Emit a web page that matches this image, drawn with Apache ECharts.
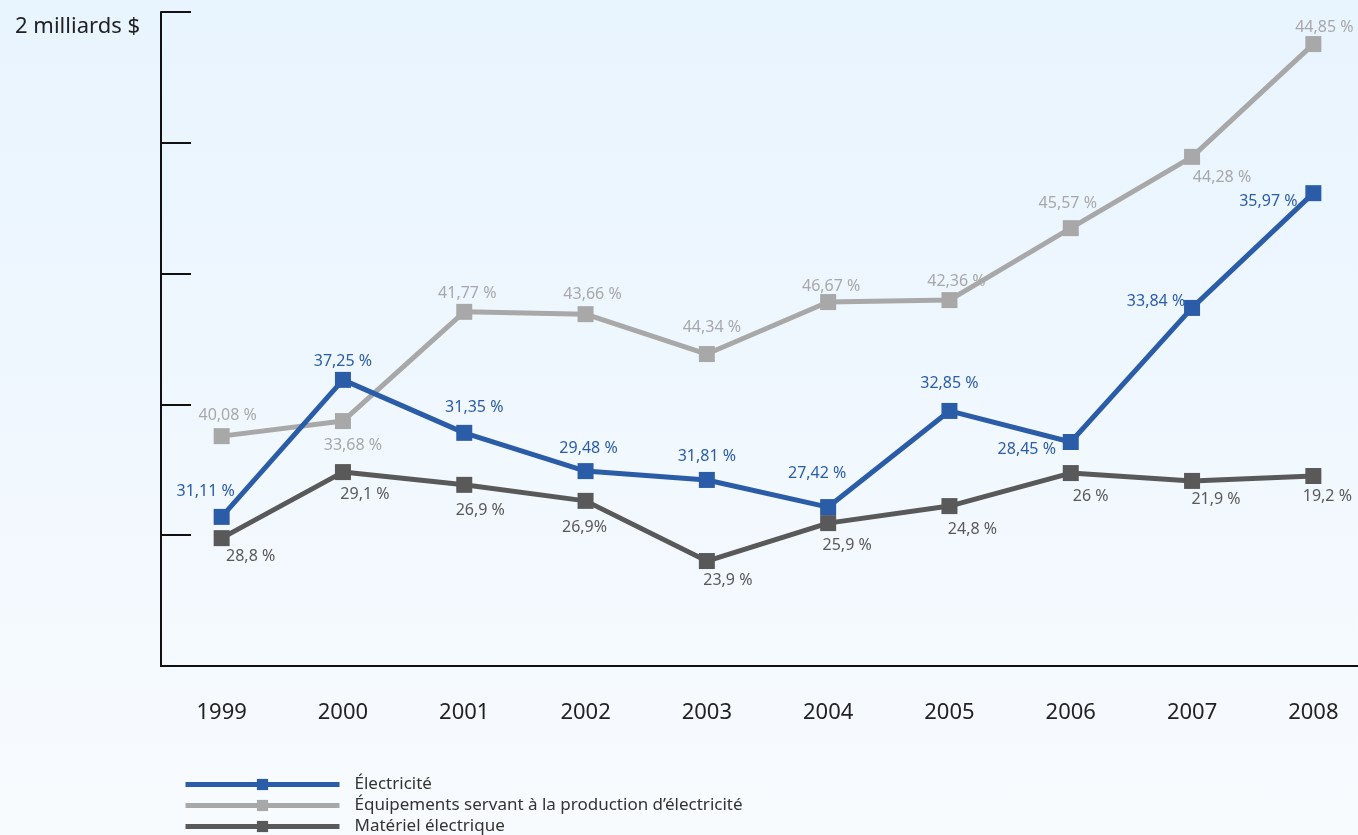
<!DOCTYPE html>
<html>
<head>
<meta charset="utf-8">
<script src="https://cdn.jsdelivr.net/npm/echarts@6/dist/echarts.min.js"></script>
<style>
html,body{margin:0;padding:0;overflow:hidden;width:1358px;height:835px;background:#f4f9fe;}
#c{width:1390px;height:835px;background:linear-gradient(to bottom,#e8f4fe 0%,#f8fbfe 100%);}
</style>
</head>
<body>
<div id="c"></div>
<script>
const years = ['1999','2000','2001','2002','2003','2004','2005','2006','2007','2008'];
// values in milliards $
const electricite = [0.456,0.875,0.713,0.596,0.569,0.486,0.780,0.685,1.095,1.446];
const equipements = [0.703,0.749,1.083,1.076,0.954,1.113,1.119,1.339,1.557,1.902];
const materiel = [0.391,0.593,0.554,0.505,0.321,0.437,0.489,0.590,0.566,0.581];
// percentage labels
const electriciteLabels = ['31,11 %','37,25 %','31,35 %','29,48 %','31,81 %','27,42 %','32,85 %','28,45 %','33,84 %','35,97 %'];
const equipementsLabels = ['40,08 %','33,68 %','41,77 %','43,66 %','44,34 %','46,67 %','42,36 %','45,57 %','44,28 %','44,85 %'];
const materielLabels = ['28,8 %','29,1 %','26,9 %','26,9%','23,9 %','25,9 %','24,8 %','26 %','21,9 %','19,2 %'];
const seriesNames = ['Électricité','Équipements servant à la production d’électricité','Matériel électrique'];

// label offsets (style, relative to each point)
const offE = [[-16,-25],[0,-18],[10,-25],[3,-23],[0,-23],[-11,-34],[0,-28],[-44,7],[-36,-6],[-45,8]];
const offQ = [[6,-21],[10,24],[3,-18],[7,-20],[5,-27],[3,-16],[7,-19],[-3,-25],[30,21],[11,-17]];
const offM = [[29,18],[22,22],[16,26],[-1,27],[21,19],[19,22],[23,23],[20,23],[24,19],[14,20]];

const FONT = '"Noto Sans", sans-serif';
function build(vals, labels, offs, color) {
  return vals.map((v, i) => ({
    value: v,
    label: { show: true, position: 'inside', offset: offs[i], formatter: labels[i],
      color: color, fontSize: 16, fontFamily: FONT }
  }));
}
const colors = ['#2b5ca8', '#a8a8a8', '#595959'];

function legendFor(i, top) {
  return {
    orient: 'horizontal', left: 183, top: top, padding: 0, itemWidth: 154, itemHeight: 14,
    lineStyle: { width: 5 },
    textStyle: { fontFamily: FONT, fontSize: 17, color: '#333', padding: [0,0,0,10] },
    data: [seriesNames[i]]
  };
}

const chart = echarts.init(document.getElementById('c'), null, {renderer: 'canvas'});
chart.setOption({
  animation: false,
  grid: { left: 161, top: 12, bottom: 169, right: 16, containLabel: false },
  legend: [legendFor(0, 776), legendFor(1, 797), legendFor(2, 818)],
  xAxis: {
    type: 'category', data: years, boundaryGap: true,
    axisLine: { lineStyle: { color: '#111', width: 2 } },
    axisTick: { inside: true, length: 15, lineStyle: { color: '#111', width: 2 } },
    axisLabel: { margin: 36, fontSize: 22, color: '#222', fontFamily: FONT }
  },
  yAxis: {
    type: 'value', min: 0, max: 2, interval: 0.4,
    splitLine: { show: false },
    axisLine: { show: true, lineStyle: { color: '#111', width: 2 } },
    axisTick: { show: true, inside: true, length: 30, lineStyle: { color: '#111', width: 2 } },
    axisLabel: {
      margin: 21, fontSize: 22, color: '#222', fontFamily: FONT, verticalAlign: 'top', padding: [4,0,0,0],
      formatter: v => (Math.abs(v - 2) < 1e-9 ? '2 milliards $' : '')
    }
  },
  series: [
    { name: seriesNames[0], type: 'line', z: 5, data: build(electricite, electriciteLabels, offE, colors[0]),
      symbol: 'rect', symbolSize: 16, lineStyle: { color: colors[0], width: 5 }, itemStyle: { color: colors[0] } },
    { name: seriesNames[1], type: 'line', z: 3, data: build(equipements, equipementsLabels, offQ, colors[1]),
      symbol: 'rect', symbolSize: 16, lineStyle: { color: colors[1], width: 5 }, itemStyle: { color: colors[1] } },
    { name: seriesNames[2], type: 'line', z: 4, data: build(materiel, materielLabels, offM, colors[2]),
      symbol: 'rect', symbolSize: 16, lineStyle: { color: colors[2], width: 5 }, itemStyle: { color: colors[2] } }
  ]
});
</script>
</body>
</html>
